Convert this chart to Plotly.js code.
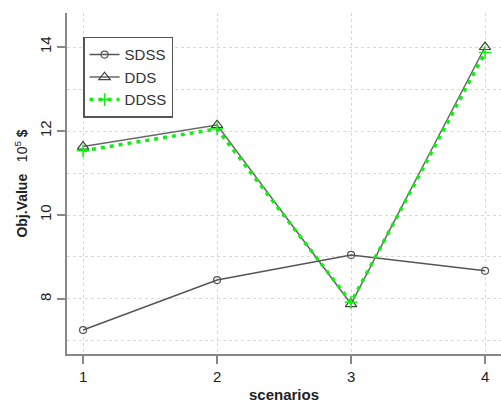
<!DOCTYPE html>
<html>
<head>
<meta charset="utf-8">
<script src="https://cdn.plot.ly/plotly-3.0.1.min.js"></script>
<style>html,body{margin:0;padding:0;background:#fff;}#chart{width:501px;height:408px;}</style>
</head>
<body>
<div id="chart"></div>
<script>
var scenarios = [1, 2, 3, 4];
var sdss = [7.26, 8.45, 9.05, 8.67];
var dds = [11.63, 12.14, 7.88, 14.0];
var ddss = [11.53, 12.05, 7.92, 13.87];
var xTicks = [1, 2, 3, 4];
var yTicks = [8, 10, 12, 14];

var traces = [
  {x: scenarios, y: sdss, name: 'SDSS', mode: 'lines+markers',
   line: {color: '#555555', width: 1.5},
   marker: {symbol: 'circle-open', size: 7, color: '#555555', line: {width: 1.2}}},
  {x: scenarios, y: dds, name: 'DDS', mode: 'lines+markers',
   line: {color: '#666666', width: 1.5},
   marker: {symbol: 'triangle-up-open', size: 10, color: '#444444', line: {width: 1.2}}},
  {x: scenarios, y: ddss, name: 'DDSS', mode: 'lines+markers',
   line: {color: '#11ee11', width: 3.5, dash: '4px,5px'},
   marker: {symbol: 'cross-thin-open', size: 9, color: '#11ee11', line: {width: 1.5, color: '#11ee11'}}}
];

var layout = {
  width: 501, height: 408,
  margin: {l: 67, r: 0, t: 13, b: 54},
  paper_bgcolor: '#ffffff', plot_bgcolor: '#ffffff',
  font: {family: 'Liberation Sans, Arial, sans-serif', color: '#222222'},
  showlegend: true,
  legend: {x: 0.037, y: 0.93, xanchor: 'left', yanchor: 'top',
    bgcolor: '#ffffff', bordercolor: '#555555', borderwidth: 1.5,
    itemwidth: 30,
    font: {size: 15, color: '#333333'}, tracegroupgap: 0},
  xaxis: {
    range: [0.88, 4.119], tickvals: xTicks, ticktext: xTicks.map(String),
    showline: true, linecolor: '#888888', linewidth: 2,
    ticks: 'outside', ticklen: 8, tickwidth: 1.5, tickcolor: '#888888',
    showgrid: true, gridcolor: '#d8d8d8', gridwidth: 1, griddash: 'dot',
    zeroline: false, tickfont: {size: 15, color: '#222222'},
    title: {text: '<b>scenarios</b>', font: {size: 15, color: '#222222'}, standoff: 5}
  },
  yaxis: {
    range: [6.69, 14.81], tickvals: yTicks, ticktext: yTicks.map(String),
    showline: true, linecolor: '#888888', linewidth: 2,
    ticks: 'outside', ticklen: 8, tickwidth: 1.5, tickcolor: '#888888',
    showgrid: true, gridcolor: '#d8d8d8', gridwidth: 1, griddash: 'dot',
    minor: {dtick: 1, tick0: 7, showgrid: true, gridcolor: '#d8d8d8', griddash: 'dot', ticks: ''},
    zeroline: false, tickangle: -90, tickfont: {size: 15, color: '#222222'},
    title: {text: '<b>Obj.Value</b>   10<sup>5</sup> <b>$</b>', font: {size: 14, color: '#222222'}, standoff: 6}
  }
};

Plotly.newPlot('chart', traces, layout, {displayModeBar: false, staticPlot: true});
</script>
</body>
</html>
